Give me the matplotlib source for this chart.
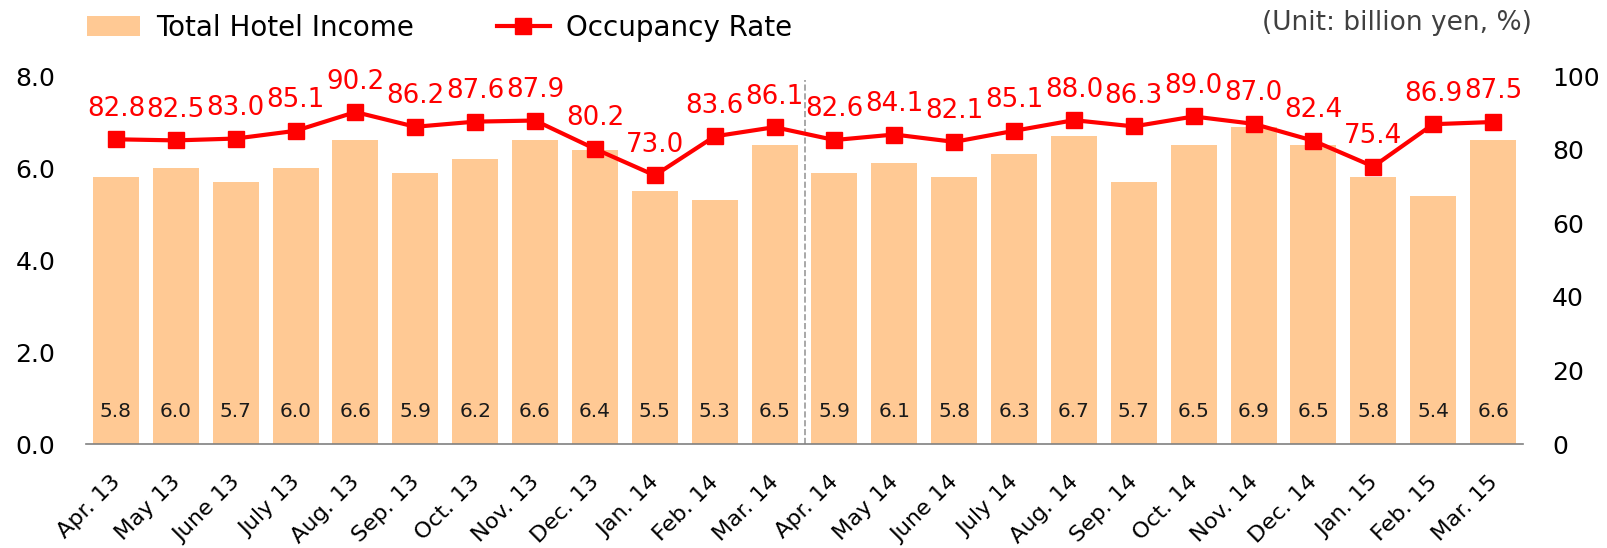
import matplotlib.pyplot as plt
import matplotlib.transforms as mtransforms
import numpy as np

# monthly hotel income (billion yen) and occupancy rate (%)
months = ["Apr. 13", "May 13", "June 13", "July 13", "Aug. 13", "Sep. 13",
          "Oct. 13", "Nov. 13", "Dec. 13", "Jan. 14", "Feb. 14", "Mar. 14",
          "Apr. 14", "May 14", "June 14", "July 14", "Aug. 14", "Sep. 14",
          "Oct. 14", "Nov. 14", "Dec. 14", "Jan. 15", "Feb. 15", "Mar. 15"]
income = [5.8, 6.0, 5.7, 6.0, 6.6, 5.9, 6.2, 6.6, 6.4, 5.5, 5.3, 6.5,
          5.9, 6.1, 5.8, 6.3, 6.7, 5.7, 6.5, 6.9, 6.5, 5.8, 5.4, 6.6]
occupancy = [82.8, 82.5, 83.0, 85.1, 90.2, 86.2, 87.6, 87.9, 80.2, 73.0, 83.6, 86.1,
             82.6, 84.1, 82.1, 85.1, 88.0, 86.3, 89.0, 87.0, 82.4, 75.4, 86.9, 87.5]

bar_color = "#FFC994"
line_color = "#FF0000"

W, H = 1607, 548
fig = plt.figure(figsize=(W / 100, H / 100), dpi=100)
ax = fig.add_axes([86 / W, 1 - 444 / H, (1523 - 86) / W, (444 - 76) / H])
x = np.arange(len(months))

bars = ax.bar(x, income, width=0.77, color=bar_color, label="Total Hotel Income")
ax.set_ylim(0, 8)
ax.set_xlim(-0.5, len(months) - 0.5)
ax.set_yticks([0, 2, 4, 6, 8])
ax.set_yticklabels(["0.0", "2.0", "4.0", "6.0", "8.0"])
ax.set_xticks(x)
ax.set_xticklabels(months, rotation=45, ha="right", rotation_mode="anchor")
ax.tick_params(axis="y", length=0, labelsize=18, pad=22)
ax.tick_params(axis="x", length=0, labelsize=16.2, pad=20)
# nudge the rotated month labels a little to the left
shift = mtransforms.ScaledTranslation(-6 / 100, 0, fig.dpi_scale_trans)
for lbl in ax.get_xticklabels():
    lbl.set_transform(lbl.get_transform() + shift)
for s in ["top", "left", "right"]:
    ax.spines[s].set_visible(False)
ax.spines["bottom"].set_color("#808080")
ax.spines["bottom"].set_linewidth(1.2)

for xi, v in zip(x, income):
    ax.text(xi, 0.7, f"{v:.1f}", ha="center", va="center", fontsize=14.5, color="#1a1a1a")

# fiscal year divider
ax.axvline(11.5, color="#999999", linestyle="--", linewidth=1.2, ymax=0.99)

ax2 = ax.twinx()
ax2.set_ylim(0, 100)
ax2.set_yticks([0, 20, 40, 60, 80, 100])
ax2.tick_params(axis="y", length=0, labelsize=18, pad=21)
for s in ["top", "left", "right", "bottom"]:
    ax2.spines[s].set_visible(False)
line, = ax2.plot(x, occupancy, color=line_color, linewidth=3, marker="s",
                 markersize=11, label="Occupancy Rate")
for xi, v in zip(x, occupancy):
    ax2.annotate(f"{v:.1f}", (xi, v), xytext=(0, 22), textcoords="offset points",
                 ha="center", va="center", fontsize=18.8, color=line_color)

fig.legend(handles=[bars, line], labels=["Total Hotel Income", "Occupancy Rate"],
           loc="upper left", bbox_to_anchor=(87 / W, 1 - 14 / H), ncol=2, frameon=False,
           fontsize=20, handlelength=1.9, handleheight=0.72, columnspacing=3.0,
           handletextpad=0.58, borderpad=0, borderaxespad=0)
fig.text(1532 / W, 1 - 23 / H, "(Unit: billion yen, %)", ha="right", va="center",
         fontsize=19, color="#404040")

fig.savefig("out.png", dpi=100)
